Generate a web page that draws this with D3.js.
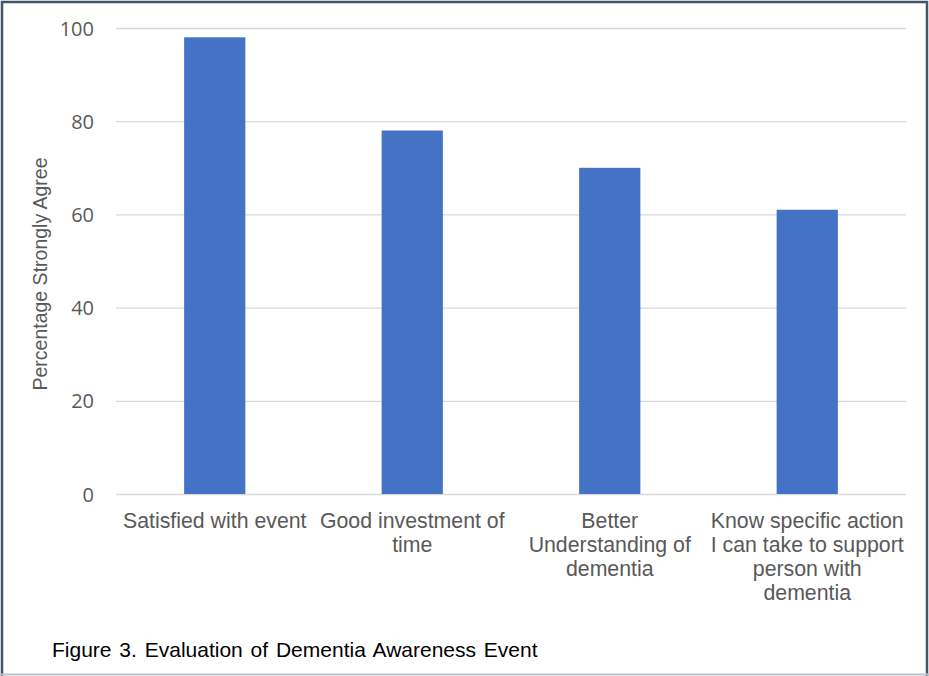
<!DOCTYPE html>
<html>
<head>
<meta charset="utf-8">
<script src="https://cdn.jsdelivr.net/npm/d3@7"></script>
<style>
  html, body { margin: 0; padding: 0; background: #fff; }
  svg { display: block; }
</style>
</head>
<body>
<div id="container"></div>
<script>
// chart data
const categories = [
  ['Satisfied with event'],
  ['Good investment of', 'time'],
  ['Better', 'Understanding of', 'dementia'],
  ['Know specific action', 'I can take to support', 'person with', 'dementia']
];
const values = [98, 78, 70, 61];
const yTicks = [0, 20, 40, 60, 80, 100];

const svgWidth = 929;
const svgHeight = 676;
const plotLeft = 116, plotRight = 906, plotTop = 28, plotBottom = 494;

const svg = d3.select('#container')
  .append('svg')
  .attr('width', svgWidth)
  .attr('height', svgHeight);

// frame
svg.append('rect')
  .attr('x', 0).attr('y', 0)
  .attr('width', svgWidth).attr('height', svgHeight)
  .attr('fill', '#fff');
svg.append('path')
  .attr('d', `M2,${svgHeight} V2 H${svgWidth - 2} V${svgHeight}`)
  .attr('fill', 'none')
  .attr('stroke', '#44546a')
  .attr('stroke-width', 2.5);
svg.append('line')
  .attr('x1', 0).attr('x2', svgWidth)
  .attr('y1', svgHeight - 1.5).attr('y2', svgHeight - 1.5)
  .attr('stroke', '#bfc3c9')
  .attr('stroke-width', 2);

const xScale = d3.scaleBand()
  .domain(d3.range(categories.length))
  .range([plotLeft, plotRight])
  .paddingInner(0.69)
  .paddingOuter(0.345);

const yScale = d3.scaleLinear()
  .domain([0, 100])
  .range([plotBottom, plotTop]);

// gridlines + y labels
const yAxis = d3.axisLeft(yScale)
  .tickValues(yTicks)
  .tickSize(-(plotRight - plotLeft))
  .tickPadding(22);

const gy = svg.append('g')
  .attr('transform', `translate(${plotLeft},0)`)
  .call(yAxis);
gy.select('.domain').remove();
gy.selectAll('.tick line')
  .attr('stroke', '#d9d9d9')
  .attr('stroke-width', 1.3);
gy.selectAll('.tick text')
  .attr('fill', '#595959')
  .style('font-family', '"Open Sans", sans-serif')
  .style('font-size', '20px')
  .attr('dy', '0.35em');

// bars
svg.selectAll('rect.bar')
  .data(values)
  .enter()
  .append('rect')
  .attr('class', 'bar')
  .attr('x', (d, i) => xScale(i))
  .attr('y', d => yScale(d))
  .attr('width', xScale.bandwidth())
  .attr('height', d => yScale(0) - yScale(d))
  .attr('fill', '#4472c4');

// category labels
const labels = svg.selectAll('text.cat')
  .data(categories)
  .enter()
  .append('text')
  .attr('class', 'cat')
  .attr('text-anchor', 'middle')
  .attr('fill', '#595959')
  .style('font-family', '"Liberation Sans", Arial, sans-serif')
  .style('font-size', '21.3px')
  .attr('x', (d, i) => xScale(i) + xScale.bandwidth() / 2)
  .attr('y', 528);

labels.selectAll('tspan')
  .data(d => d)
  .enter()
  .append('tspan')
  .attr('x', function () { return d3.select(this.parentNode).attr('x'); })
  .attr('dy', (d, i) => i === 0 ? 0 : 24)
  .text(d => d);

// y axis title
svg.append('text')
  .attr('transform', `translate(47, 274) rotate(-90)`)
  .attr('text-anchor', 'middle')
  .attr('fill', '#595959')
  .style('font-family', '"Liberation Sans", Arial, sans-serif')
  .style('font-size', '19.5px')
  .text('Percentage Strongly Agree');

// caption
svg.append('text')
  .attr('x', 52)
  .attr('y', 657)
  .attr('fill', '#000')
  .style('font-family', '"Liberation Sans", Arial, sans-serif')
  .style('font-size', '21px')
  .style('word-spacing', '2px')
  .text('Figure 3. Evaluation of Dementia Awareness Event');
</script>
</body>
</html>
